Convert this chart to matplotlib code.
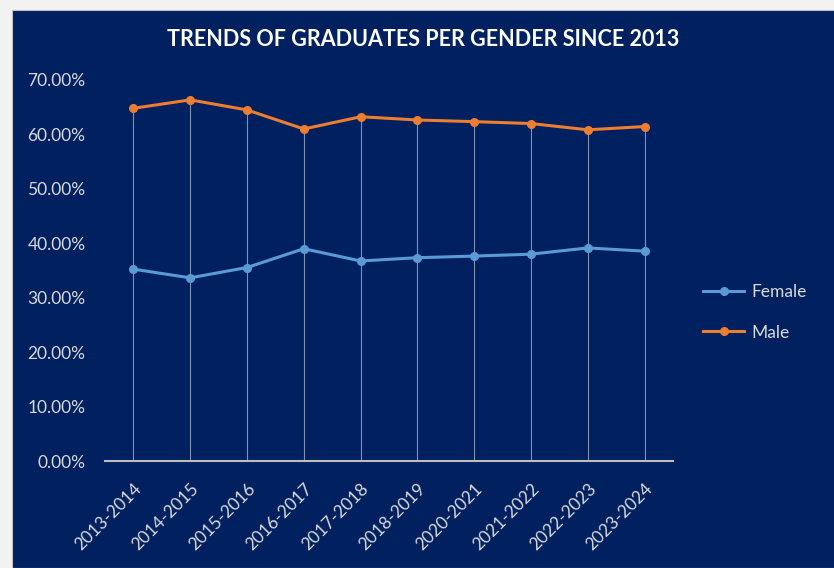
import matplotlib.pyplot as plt
from matplotlib.patches import Rectangle
from matplotlib.ticker import FuncFormatter

years = ["2013-2014", "2014-2015", "2015-2016", "2016-2017", "2017-2018",
         "2018-2019", "2020-2021", "2021-2022", "2022-2023", "2023-2024"]
female = [35.25, 33.65, 35.55, 39.0, 36.75, 37.35, 37.65, 38.0, 39.15, 38.55]
male = [64.8, 66.35, 64.5, 61.0, 63.25, 62.65, 62.35, 62.0, 60.85, 61.45]

NAVY = "#002060"
TXT = "#d9d9d9"
plt.rcParams['font.family'] = ['Lato', 'DejaVu Sans']

fig = plt.figure(figsize=(8.34, 5.68), dpi=100, facecolor="#f2f2f2")
# dark chart area, leaving a thin light strip on top and left like the screenshot
fig.patches.append(Rectangle((12 / 834, 0), 1, 1 - 10 / 568, transform=fig.transFigure,
                             facecolor=NAVY, edgecolor="#bfbfbf", lw=0.8, zorder=-1))

ax = fig.add_axes([105 / 834, 107 / 568, 568 / 834, 381 / 568])
ax.set_facecolor(NAVY)
x = list(range(len(years)))

# drop lines from the highest point down to the axis
tops = [max(f, m) / 100 for f, m in zip(female, male)]
ax.vlines(x, 0, tops, color="#8090b0", lw=0.8, zorder=1)

ax.plot(x, [v / 100 for v in female], color="#5b9bd5", lw=2.2, marker="o", ms=5.5, label="Female", zorder=3)
ax.plot(x, [v / 100 for v in male], color="#ed7d31", lw=2.2, marker="o", ms=5.5, label="Male", zorder=3)

ax.set_xlim(-0.5, len(years) - 0.5)
ax.set_ylim(0, 0.7)
ax.set_yticks([i / 10 for i in range(8)])
ax.yaxis.set_major_formatter(FuncFormatter(lambda v, p: f"{v * 100:.2f}%"))
ax.set_xticks(x)
ax.set_xticklabels(years, rotation=45, ha="right", rotation_mode="anchor")
ax.tick_params(axis="both", length=0, colors=TXT, labelsize=12.5)
ax.tick_params(axis="y", pad=14)
ax.tick_params(axis="x", pad=14)

for s in ["top", "right", "left"]:
    ax.spines[s].set_visible(False)
ax.spines["bottom"].set_color("#bfbfbf")
ax.spines["bottom"].set_linewidth(1.5)

fig.text(423 / 834, 1 - 40 / 568, "TRENDS OF GRADUATES PER GENDER SINCE 2013", color="white",
         fontsize=15.5, fontweight="bold", ha="center", va="center")

leg = ax.legend(loc="center left", bbox_to_anchor=(1.025, 0.39), frameon=False, fontsize=12.5,
                labelcolor=TXT, handlelength=2.4, handletextpad=0.4, labelspacing=1.4)

fig.savefig("out.png", dpi=100, facecolor=fig.get_facecolor())
